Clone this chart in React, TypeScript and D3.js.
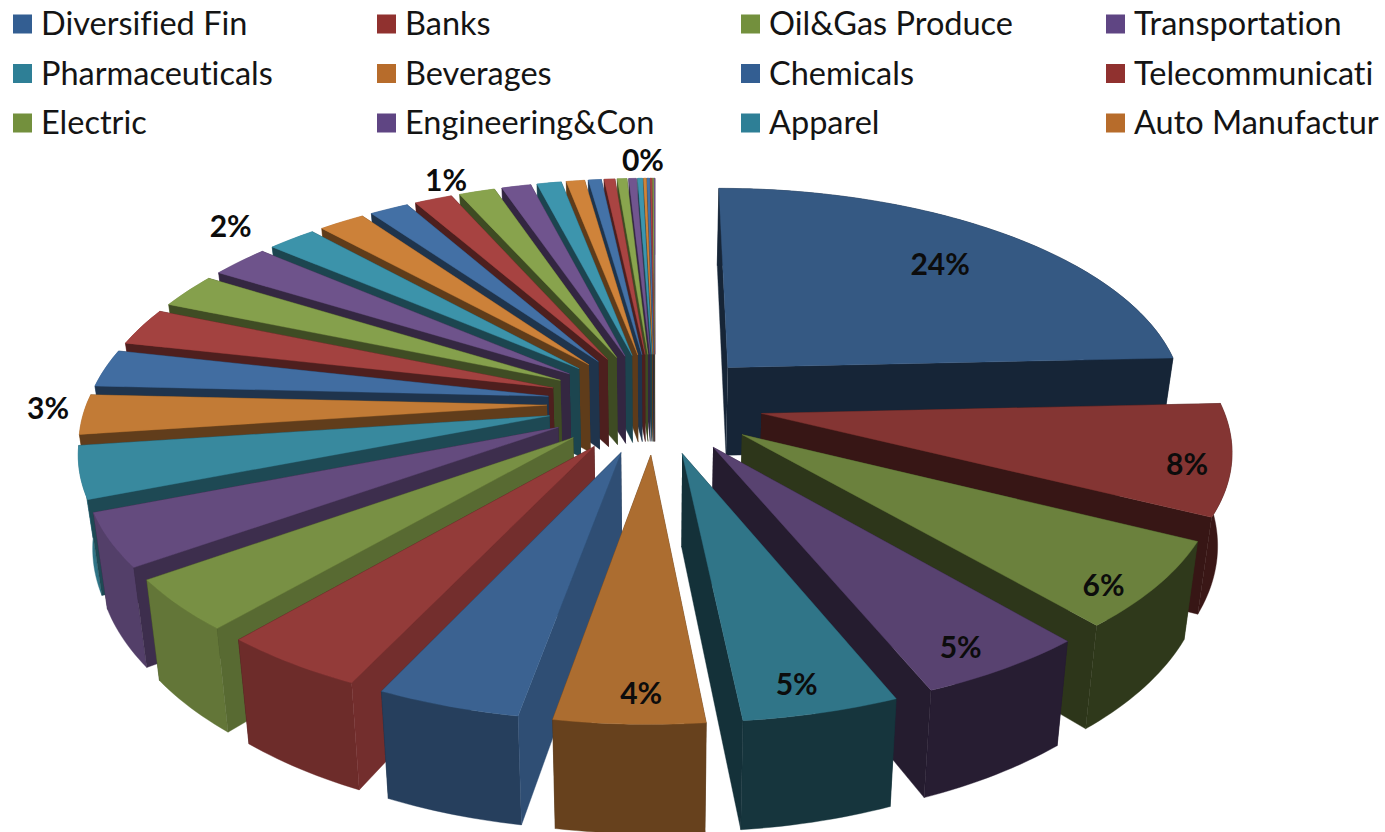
import React from "react";
import * as d3 from "d3";

const legendNames = [
  "Diversified Fin", "Banks", "Oil&Gas Produce", "Transportation",
  "Pharmaceuticals", "Beverages", "Chemicals", "Telecommunicati",
  "Electric", "Engineering&Con", "Apparel", "Auto Manufactur",
];
const legendColors = ["#335e92", "#90312f", "#73903d", "#5f4583", "#2e7f96", "#b76c2b"];
const shares = [
  24.2, 8.1, 6.33, 5.05, 4.6, 4.39,
  4.22, 4.3, 3.8, 3.9, 3.8, 2.9,
  2.75, 2.75, 2.55, 2.4, 2.0, 1.9,
  1.6, 1.55, 1.47, 1.2, 1.0, 0.75,
  0.53, 0.44, 0.39, 0.3, 0.2, 0.11,
  0.11, 0.07, 0.05, 0.05,
];
const palette = ["#4472a8", "#a94442", "#89a54e", "#71558f", "#3d96ae", "#d0843a"];
const labelSlices = [0, 1, 2, 3, 4, 5, 11, 16, 19, 33];
const labelTexts = ["24%", "8%", "6%", "5%", "5%", "4%", "3%", "2%", "1%", "0%"];
const labelRadii = [0.75, 0.91, 0.92, 0.9, 0.9, 0.9, 1.08, 1.17, 1.095, 1.115];
const labelTurns = [0.3, 2.4, 4.0, 1.6, 1.1, -1.1, 1.6, -2.7, 3.9, -1.5];

const W = 1385, H = 832;
const CX = 655, Y0 = 403, FOCAL = 3210, A = 1495;
const R = 460, EXPLODE = 108, DEPTH = 90, LEAN = 0.025;
const FONT = "Lato, 'Noto Sans', sans-serif";

type Pt = [number, number];
const project = (X: number, Y: number, z = 0): Pt => {
  const s = FOCAL / (FOCAL - Y);
  return [CX + X * s * (1 - z * LEAN), Y0 + (A * Y) / (FOCAL - Y) + z * DEPTH * s];
};
const deg = (r: number) => (r * 180) / Math.PI;

const topShade = d3.scaleLinear().domain([0, 170, 190, 240, 280, 360]).range([0.78, 0.78, 0.86, 0.88, 0.96, 1]);
const outerShade = d3.scaleLinear().domain([0, 170, 182, 200, 225, 260, 360]).range([0.42, 0.45, 0.6, 0.65, 0.82, 0.85, 0.85]);
const startShade = d3.scaleLinear().domain([180, 200, 225, 240, 270, 360]).range([0.8, 0.8, 0.72, 0.55, 0.48, 0.45]);
const shade = (c: string, f: number) => {
  const q = d3.rgb(c);
  return d3.rgb(q.r * f, q.g * f, q.b * f).formatHex();
};

const pieGen = d3.pie<number>().sort(null).value((d) => d);
const path = d3.line<Pt>();

export default function App() {
  const arcs = pieGen(shares);
  const slices = arcs.map((a, i) => {
    const mid = (a.startAngle + a.endAngle) / 2;
    const ox = EXPLODE * Math.sin(mid);
    const oy = -EXPLODE * Math.cos(mid);
    const n = Math.max(2, Math.ceil((a.endAngle - a.startAngle) / 0.02));
    const angles = d3.range(n + 1).map((k) => a.startAngle + ((a.endAngle - a.startAngle) * k) / n);
    const rim = (z: number) => angles.map((t) => project(ox + R * Math.sin(t), oy - R * Math.cos(t), z));
    const apex0 = project(ox, oy, 0);
    const apex1 = project(ox, oy, 1);
    const rim0 = rim(0);
    const rim1 = rim(1);
    const base = palette[i % palette.length];
    const md = deg(mid);
    const top = shade(base, topShade(md));
    const sd = deg(a.startAngle);
    const ed = deg(a.endAngle);
    const startF = sd >= 180 ? startShade(sd) : 0.42;
    const startWall = { d: path([apex0, rim0[0], rim1[0], apex1])!, fill: shade(top, startF) };
    const endWall = { d: path([apex0, rim0[n], rim1[n], apex1])!, fill: shade(top, 0.42) };
    const outerWall = { d: path([...rim0, ...[...rim1].reverse()])! + "Z", fill: shade(top, outerShade(md)) };
    const walls =
      sd >= 180 ? [endWall, outerWall, startWall]
      : ed > 180 ? [startWall, endWall, outerWall]
      : [startWall, outerWall, endWall];
    return { i, mid, ox, oy, top, walls, topFace: path([apex0, ...rim0])! + "Z" };
  });
  const order = [...slices].sort((p, q) => -Math.cos(p.mid) - -Math.cos(q.mid));

  const labels = labelSlices.map((idx, k) => {
    const s = slices[idx];
    const t = s.mid + (labelTurns[k] * Math.PI) / 180;
    const rr = R * labelRadii[k];
    const [x, y] = project(s.ox + rr * Math.sin(t), s.oy - rr * Math.cos(t));
    return { x, y, text: labelTexts[k] };
  });

  return (
    <svg width={W} height={H} viewBox={`0 0 ${W} ${H}`} style={{ position: "absolute", left: 0, top: 0, background: "#fff" }}>
      <g>
        {order.map((s) => (
          <g key={s.i}>
            {s.walls.map((w, j) => (
              <path key={j} d={w.d} fill={w.fill} stroke={w.fill} strokeWidth={0.4} />
            ))}
            <path d={s.topFace} fill={s.top} stroke={s.top} strokeWidth={0.4} />
          </g>
        ))}
      </g>
      <g fontFamily={FONT} fontSize={30} fontWeight={700} fill="#0c0c0c" textAnchor="middle">
        {labels.map((l, i) => (
          <text key={i} x={l.x} y={l.y} dy="0.35em">{l.text}</text>
        ))}
      </g>
      <g fontFamily={FONT} fontSize={32.5} fill="#141414" style={{ fontVariantLigatures: "none" }}>
        {legendNames.map((name, i) => {
          const col = i % 4, row = Math.floor(i / 4);
          const x = [13, 377, 741, 1106][col];
          const y = 24 + row * 49.5;
          return (
            <g key={name}>
              <rect x={x} y={y - 9.5} width={19} height={19} fill={legendColors[i % 6]} />
              <text x={x + 28} y={y} dy="0.35em">{name}</text>
            </g>
          );
        })}
      </g>
    </svg>
  );
}
